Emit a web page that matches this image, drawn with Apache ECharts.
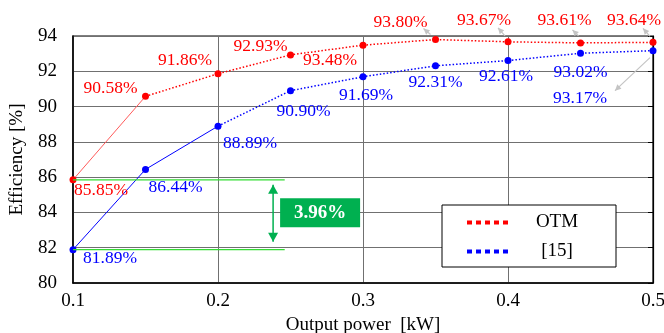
<!DOCTYPE html>
<html>
<head>
<meta charset="utf-8">
<script src="https://cdn.jsdelivr.net/npm/echarts@6/dist/echarts.min.js"></script>
<style>
  html, body { margin: 0; padding: 0; background: #fff; }
  #chart { width: 664px; height: 333px; }
</style>
</head>
<body>
<div id="chart"></div>
<script>
// Output power [kW] and measured efficiency [%]
const power   = [0.1, 0.15, 0.2, 0.25, 0.3, 0.35, 0.4, 0.45, 0.5];
const effOTM  = [85.85, 90.58, 91.86, 92.93, 93.48, 93.80, 93.67, 93.61, 93.64];
const effRef  = [81.89, 86.44, 88.89, 90.90, 91.69, 92.31, 92.61, 93.02, 93.17];
const seriesNames = ['OTM', '[15]'];

// label placement: pixel offset from each point to its label centre
const otmLabelOffset = [[28, 11], [-35, -8], [-33, -13], [-30, -8], [-33, 15], [-35, -17], [-24, -21], [-16, -22], [-19, -22]];
const refLabelOffset = [[37, 9], [30, 18], [32, 17], [13, 21], [3, 19], [0, 17], [-2, 16], [0, 19], [-73, 48]];

// gray pointer arrows: [series, index, tail offset, tip offset] (px from the point)
const pointers = [
  ['otm', 5, [-5, -5], [-12, -11]],
  ['otm', 6, [-3, -6], [-10, -14]],
  ['otm', 7, [-2, -7], [-8, -13]],
  ['otm', 8, [-3, -6], [-10, -14]],
  ['ref', 8, [-3, 7], [-38, 40]]
];

const FONT = '"Liberation Serif", "Times New Roman", serif';
const RED = '#ff0000', BLUE = '#0000ff';

const pts = (ys, from, to) => power.slice(from, to).map((x, i) => [x, ys[from + i]]);

function labelled(ys, offsets) {
  return ys.map((y, i) => ({
    value: [power[i], y],
    label: { offset: offsets[i] }
  }));
}

const chart = echarts.init(document.getElementById('chart'), null, { renderer: 'canvas' });

const dotIcon = 'path://M0,0h5v4h-5z M9,0h5v4h-5z M18,0h5v4h-5z M27,0h5v4h-5z M36,0h5v4h-5z';

function pointSeries(name, ys, offsets, color) {
  return {
    name: name,
    type: 'line',
    data: labelled(ys, offsets),
    symbol: 'circle',
    symbolSize: 7,
    itemStyle: { color: color },
    lineStyle: { opacity: 0 },
    z: 5,
    label: {
      show: true,
      position: 'inside',
      formatter: p => p.value[1].toFixed(2) + '%',
      color: color,
      fontFamily: FONT,
      fontSize: 17.5
    },
    emphasis: { disabled: true },
    animation: false
  };
}

function segment(name, data, color, type, width) {
  return {
    name: name,
    type: 'line',
    data: data,
    symbol: 'none',
    lineStyle: { color: color, type: type, width: width },
    silent: true,
    z: 3,
    animation: false
  };
}

chart.setOption({
  animation: false,
  grid: {
    left: 73, right: 11, top: 36, bottom: 50,
    outerBoundsMode: 'none', containLabel: false,
    show: true, borderColor: '#000', borderWidth: 1.2
  },
  legend: {
    data: seriesNames.map(n => ({ name: n, icon: dotIcon })),
    orient: 'vertical',
    left: 442,
    top: 205,
    itemWidth: 43,
    itemHeight: 4,
    itemGap: 10,
    padding: [8, 16, 6, 25],
    borderColor: '#000',
    borderWidth: 1,
    backgroundColor: '#fff',
    selectedMode: false,
    formatter: '{t|{name}}',
    textStyle: {
      rich: { t: { width: 86, align: 'center', fontFamily: FONT, fontSize: 19, lineHeight: 17, color: '#000' } }
    }
  },
  xAxis: {
    type: 'value',
    min: 0.1, max: 0.5, interval: 0.1,
    name: 'Output power  [kW]',
    nameLocation: 'middle',
    nameGap: 30,
    nameTextStyle: { fontFamily: FONT, fontSize: 19, color: '#000' },
    axisLine: { lineStyle: { color: '#000', width: 1.5 } },
    axisTick: { show: false },
    axisLabel: { fontFamily: FONT, fontSize: 19, color: '#000', margin: 9, formatter: v => v.toFixed(1) },
    splitLine: { show: true, lineStyle: { color: '#707070', width: 1 } }
  },
  yAxis: [{
    type: 'value',
    min: 80, max: 94, interval: 2,
    name: 'Efficiency [%]',
    nameLocation: 'middle',
    nameGap: 46,
    nameTextStyle: { fontFamily: FONT, fontSize: 19, color: '#000' },
    axisLine: { show: true, lineStyle: { color: '#000', width: 1.5 } },
    axisTick: { show: false },
    axisLabel: { fontFamily: FONT, fontSize: 19, color: '#000', margin: 16 },
    splitLine: { show: true, lineStyle: { color: '#707070', width: 1 } }
  }, {
    type: 'value',
    position: 'right',
    min: 80, max: 94, interval: 2,
    axisLine: { show: true, lineStyle: { color: '#000', width: 1.2 } },
    axisTick: { show: true, inside: true, length: 5, lineStyle: { color: '#000' } },
    axisLabel: { show: false },
    splitLine: { show: false }
  }],
  series: [
    segment('otm-solid', pts(effOTM, 0, 2), '#ff5a5a', 'solid', 1),
    segment('otm-dotted', pts(effOTM, 1, power.length), RED, [1.5, 2], 1.5),
    segment('ref-solid', pts(effRef, 0, 3), BLUE, 'solid', 1),
    segment('ref-dotted', pts(effRef, 2, power.length), BLUE, [1.5, 2], 1.5),
    pointSeries(seriesNames[0], effOTM, otmLabelOffset, RED),
    pointSeries(seriesNames[1], effRef, refLabelOffset, BLUE)
  ]
});

// ---- annotations drawn on top, positioned through the chart's own scales ----
const toPx = (x, y) => chart.convertToPixel({ gridIndex: 0 }, [x, y]);

function arrowHead(tip, from, len, half, color) {
  const dx = tip[0] - from[0], dy = tip[1] - from[1];
  const d = Math.hypot(dx, dy) || 1;
  const ux = dx / d, uy = dy / d;
  const bx = tip[0] - ux * len, by = tip[1] - uy * len;
  return {
    type: 'polygon',
    shape: { points: [tip, [bx - uy * half, by + ux * half], [bx + uy * half, by - ux * half]] },
    style: { fill: color },
    silent: true, z: 20
  };
}

const graphics = [];
const GRAY = '#c4c4c4';
pointers.forEach(([s, i, tail, tip]) => {
  const p = toPx(power[i], s === 'otm' ? effOTM[i] : effRef[i]);
  const a = [p[0] + tail[0], p[1] + tail[1]];
  const b = [p[0] + tip[0], p[1] + tip[1]];
  graphics.push({
    type: 'line',
    shape: { x1: a[0], y1: a[1], x2: b[0], y2: b[1] },
    style: { stroke: GRAY, lineWidth: 1.2 },
    silent: true, z: 20
  });
  graphics.push(arrowHead(b, a, 6, 3, GRAY));
});

// efficiency gap at the lightest load
const gap = effOTM[0] - effRef[0];
const lineEndX = 0.246, arrowX = 0.238;
const LIME = '#33dd33', GREEN = '#00b050';
[effOTM[0], effRef[0]].forEach(v => {
  const a = toPx(power[0], v), b = toPx(lineEndX, v);
  graphics.push({
    type: 'line',
    shape: { x1: a[0], y1: a[1], x2: b[0], y2: b[1] },
    style: { stroke: LIME, lineWidth: 1.2 },
    silent: true, z: 15
  });
});
const gapTop = toPx(arrowX, effOTM[0]), gapBot = toPx(arrowX, effRef[0]);
const aTop = [gapTop[0], gapTop[1] + 5], aBot = [gapBot[0], gapBot[1] - 8];
graphics.push({
  type: 'line',
  shape: { x1: aTop[0], y1: aTop[1], x2: aBot[0], y2: aBot[1] },
  style: { stroke: GREEN, lineWidth: 1.5 },
  silent: true, z: 20
});
graphics.push(arrowHead(aTop, aBot, 9, 5, GREEN));
graphics.push(arrowHead(aBot, aTop, 9, 5, GREEN));
const midY = (gapTop[1] + gapBot[1]) / 2 - 2;
graphics.push({
  type: 'rect',
  shape: { x: gapTop[0] + 7, y: midY - 14.5, width: 80, height: 29 },
  style: { fill: GREEN },
  silent: true, z: 20
});
graphics.push({
  type: 'text',
  x: gapTop[0] + 47, y: midY,
  style: {
    text: gap.toFixed(2) + '%',
    fill: '#fff',
    font: 'bold 19px ' + FONT,
    align: 'center',
    verticalAlign: 'middle'
  },
  silent: true, z: 21
});

chart.setOption({ graphic: graphics });
</script>
</body>
</html>
